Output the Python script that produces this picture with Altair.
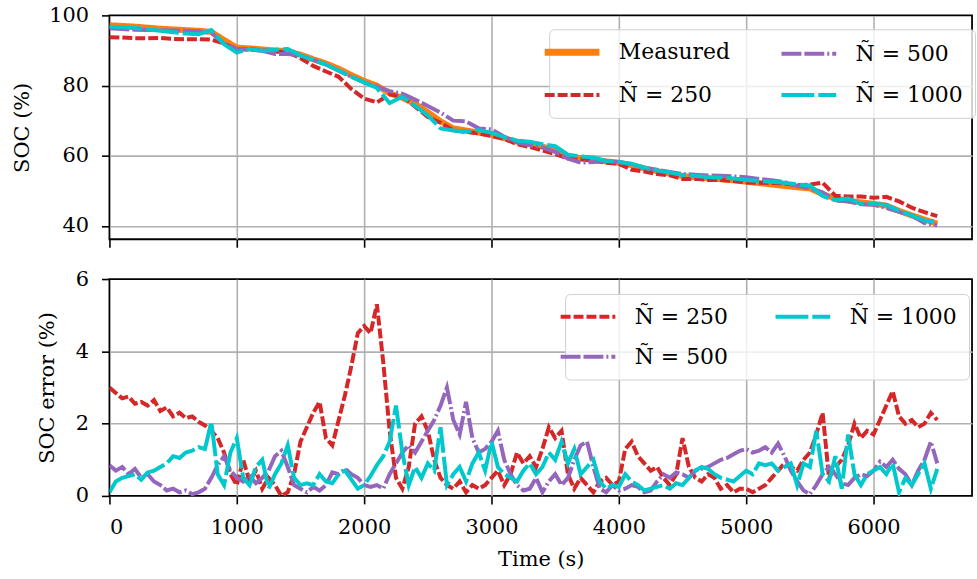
import altair as alt
import pandas as pd

# ---------------- data ----------------
t_soc = list(range(0, 6501, 100))
t_err = list(range(0, 6501, 50))

soc_measured = [97.2, 97.0, 96.8, 96.5, 96.2, 96.0, 95.8, 95.6, 95.3, 93.0,
                90.8, 90.6, 90.3, 90.0, 89.8, 88.8, 87.5, 86.3, 84.8, 83.0,
                81.3, 80.0, 77.8, 76.5, 74.8, 72.4, 69.8, 67.8, 67.2, 66.6,
                66.0, 65.0, 64.0, 63.3, 62.6, 61.5, 59.8, 59.3, 58.8, 58.4,
                58.0, 57.3, 56.4, 55.6, 54.9, 54.2, 53.9, 53.6, 53.3, 53.0,
                52.6, 52.2, 51.8, 51.4, 51.0, 50.7, 49.0, 47.8, 47.2, 46.7,
                46.3, 45.8, 44.3, 43.0, 41.8, 40.6]
soc_n250 = [93.8, 93.7, 93.5, 93.5, 93.6, 93.3, 93.2, 93.2, 93.1, 92.0,
            90.3, 90.4, 90.0, 89.7, 89.5, 87.8, 85.6, 84.0, 82.5, 79.0,
            76.3, 75.2, 77.5, 76.8, 74.0, 71.0, 69.4, 67.2, 66.8, 66.4,
            65.6, 64.8, 63.3, 62.5, 61.5, 60.5, 59.2, 59.0, 58.6, 58.0,
            57.7, 56.0, 55.5, 54.8, 54.4, 53.4, 53.4, 53.1, 53.1, 52.8,
            52.4, 52.3, 52.2, 52.1, 51.6, 51.8, 52.3, 48.6, 48.4, 48.4,
            48.0, 48.3, 47.0, 45.2, 43.9, 42.8]
soc_n500 = [96.3, 96.1, 95.9, 95.8, 95.8, 95.7, 95.6, 95.5, 95.0, 92.0,
            90.4, 90.2, 89.9, 89.0, 89.0, 88.6, 87.3, 86.0, 84.2, 82.5,
            80.9, 79.7, 78.4, 77.7, 76.0, 74.2, 72.3, 70.0, 69.8, 67.8,
            67.5, 65.4, 63.8, 63.0, 62.4, 61.1, 59.2, 58.0, 58.2, 58.5,
            58.2, 57.5, 56.5, 56.0, 55.4, 54.8, 54.6, 54.4, 54.3, 54.1,
            53.9, 53.4, 53.0, 52.5, 51.4, 50.7, 49.6, 47.2, 47.0, 46.2,
            46.0, 45.1, 44.0, 42.9, 40.8, 40.2]
soc_n1000 = [96.8, 96.6, 96.4, 96.0, 95.6, 95.2, 94.8, 94.6, 95.8, 91.8,
             89.4, 90.4, 89.9, 90.2, 90.4, 88.6, 87.3, 86.0, 84.3, 82.5,
             80.9, 79.3, 75.0, 76.8, 74.2, 71.5, 67.8, 67.2, 66.9, 67.3,
             66.5, 65.3, 64.3, 64.0, 63.3, 62.7, 60.3, 59.8, 59.5, 58.5,
             58.2, 57.7, 56.6, 55.8, 55.2, 54.5, 54.2, 53.9, 53.8, 53.5,
             53.1, 52.8, 52.6, 52.3, 51.8, 51.5, 48.5, 47.3, 47.8, 46.3,
             46.3, 46.0, 44.3, 43.0, 41.5, 41.3]

err_n250 = [3.0, 2.85, 2.7, 2.75, 2.55, 2.6, 2.5, 2.65, 2.35, 2.45,
            2.2, 2.3, 2.15, 2.2, 2.05, 1.95, 1.8, 1.6, 1.2, 0.6,
            0.3, 1.0, 0.4, 0.7, 0.2, 0.5, 0.3, 0.0, 0.1, 0.6,
            1.5, 1.9, 2.3, 2.6, 1.6, 1.4, 2.1, 2.8, 3.6, 4.5,
            4.7, 4.5, 5.3, 3.7, 1.8, 0.5, 0.2, 0.8, 2.0, 2.2,
            1.8, 1.0, 0.5, 0.3, 0.2, 0.4, 0.1, 0.3, 0.2, 0.3,
            0.5, 0.7, 0.3, 0.6, 1.2, 0.9, 1.1, 0.8, 1.3, 1.9,
            1.6, 1.8, 0.6, 0.2, 0.5, 0.3, 0.1, 0.4, 0.5, 0.3,
            0.4, 1.3, 1.5, 1.1, 0.9, 0.7, 0.8, 0.5, 0.3, 0.6,
            1.6, 0.8, 0.5, 0.4, 0.6, 0.5, 0.2, 0.3, 0.1, 0.2,
            0.2, 0.1, 0.2, 0.3, 0.5, 0.7, 0.9, 0.8, 0.7, 1.0,
            1.2, 1.7, 2.3, 0.5, 0.8, 1.0, 1.4, 2.0, 1.6, 1.8,
            1.7, 2.1, 2.5, 2.9, 2.2, 2.0, 2.1, 1.9, 2.0, 2.3,
            2.1]
err_n500 = [0.85, 0.7, 0.8, 0.6, 0.75, 0.5, 0.6, 0.4, 0.3, 0.15,
            0.2, 0.1, 0.15, 0.05, 0.1, 0.2, 0.5, 0.85, 1.1, 0.7,
            0.5, 0.4, 0.55, 0.35, 0.5, 0.7, 1.1, 1.25, 0.8, 0.3,
            0.2, 0.1, 0.25, 0.15, 0.3, 0.65, 0.6, 0.75, 0.6, 0.5,
            0.3, 0.25, 0.3, 0.2, 0.6, 0.9, 1.2, 1.4, 1.2, 1.5,
            1.8, 2.1, 2.5, 3.0, 2.1, 1.7, 2.6, 1.6, 1.2, 1.3,
            1.5, 1.8, 1.0, 0.6, 0.3, 0.15, 0.2, 0.5, 0.1, 0.4,
            0.6, 0.3, 0.5, 1.0, 1.4, 1.5, 0.8, 0.2, 0.1, 0.3,
            0.15, 0.2, 0.3, 0.25, 0.1, 0.15, 0.4, 0.6, 0.5, 0.65,
            0.6, 0.5, 0.7, 0.75, 0.8, 0.9, 1.0, 1.05, 1.15, 1.25,
            1.3, 1.2, 1.25, 1.35, 1.2, 1.45, 1.1, 0.7, 0.4, 0.15,
            0.05, 0.3, 0.6, 0.8, 0.6, 0.35, 0.3, 0.5, 0.6, 0.55,
            0.7, 0.95, 0.8, 1.0, 0.75, 0.6, 0.3, 0.7, 1.0, 1.5,
            0.9]
err_n1000 = [0.1, 0.4, 0.5, 0.55, 0.6, 0.45, 0.65, 0.7, 0.8, 0.9,
             1.1, 1.05, 1.2, 1.25, 1.35, 1.3, 2.05, 0.6, 0.3, 1.2,
             1.6, 0.5, 0.3, 0.8, 1.0, 0.2, 0.6, 0.9, 1.4, 0.5,
             0.3, 0.35, 0.3, 0.6, 0.4, 0.35, 0.6, 0.7, 0.45, 0.2,
             0.3, 0.55, 0.85, 1.1, 1.5, 2.5, 1.2, 0.3, 0.8, 0.5,
             0.9, 0.7, 1.9, 0.3, 0.6, 0.8, 0.4, 0.9, 1.2, 0.7,
             1.5, 0.8, 0.6, 0.5, 0.4, 0.7, 0.9, 0.6, 0.8, 1.2,
             1.0, 1.5, 0.9, 1.3, 0.6, 0.8, 1.0, 0.4, 0.2, 0.3,
             0.25, 0.6, 0.4, 0.3, 0.15, 0.2, 0.25, 0.3, 0.2, 0.35,
             0.3, 0.5, 0.7, 0.8, 0.75, 0.6, 0.5, 0.45, 0.4, 0.55,
             0.7, 0.6, 0.9, 0.85, 0.9, 0.7, 0.8, 0.9, 0.3, 0.9,
             0.8, 1.8, 0.6, 0.4, 1.1, 0.2, 1.7, 0.6, 0.3, 0.6,
             0.7, 0.8, 0.6, 0.9, 0.1, 0.5, 0.3, 0.6, 0.9, 0.2,
             0.75]

L_M = "Measured"
L250 = "Ñ = 250"
L500 = "Ñ = 500"
L1000 = "Ñ = 1000"

x_ticks = [0, 1000, 2000, 3000, 4000, 5000, 6000]
soc_ticks = [40, 60, 80, 100]
err_ticks = [0, 2, 4, 6]

# ---------------- tables ----------------
rows = []
for name, vals in [(L_M, soc_measured), (L250, soc_n250), (L500, soc_n500), (L1000, soc_n1000)]:
    for t, v in zip(t_soc, vals):
        rows.append({"t": t, "v": v, "series": name, "lw": 6.0 if name == L_M else 4.0})
top_df = pd.DataFrame(rows)

rows = []
for name, vals in [(L250, err_n250), (L500, err_n500), (L1000, err_n1000)]:
    for t, v in zip(t_err, vals):
        rows.append({"t": t, "v": v, "series": name, "lw": 4.0})
bot_df = pd.DataFrame(rows)

FONT = "DejaVu Serif"
XMAX = 6773
COL = {L_M: "#ff7f0e", L250: "#d62728", L500: "#9467bd", L1000: "#00c8cc"}
DASH = {L_M: [1, 0], L250: [10, 3], L500: [20, 3, 20, 3, 2, 3], L1000: [33, 4]}


def legend(x, y, colpad):
    return alt.Legend(
        title=None, orient="none", legendX=x, legendY=y, columns=2,
        symbolType="stroke", symbolSize=3025,
        symbolStrokeWidth=alt.ExprRef(expr="datum.value == 'Measured' ? 7 : 4"),
        labelFont=FONT, labelFontSize=22, labelColor="black", labelOffset=36,
        rowPadding=18, columnPadding=colpad, padding=12,
        fillColor="rgba(255,255,255,0.8)", strokeColor="#d0d0d0", cornerRadius=5,
    )


def grid_hide(vals):
    test = " || ".join(f"datum.value == {v}" for v in vals)
    return {"condition": {"test": test, "value": 0}, "value": 1}


def panel(df, order, ydom, yticks, ytitle, ytitle_x, height, show_x, lx, ly, colpad):
    x_axis = alt.Axis(values=x_ticks, labels=show_x, format="d", title="Time (s)" if show_x else None,
                      gridOpacity=grid_hide([0]))
    y_axis = alt.Axis(values=yticks, title=ytitle, titleX=ytitle_x,
                      gridOpacity=grid_hide([ydom[0], ydom[1]]))
    leg = legend(lx, ly, colpad)
    return alt.Chart(df).mark_line(strokeCap="butt", clip=True).encode(
        x=alt.X("t:Q", scale=alt.Scale(domain=[0, XMAX], nice=False, zero=False), axis=x_axis),
        y=alt.Y("v:Q", scale=alt.Scale(domain=ydom, nice=False, zero=False), axis=y_axis),
        color=alt.Color("series:N", scale=alt.Scale(domain=order, range=[COL[o] for o in order]), legend=leg),
        strokeDash=alt.StrokeDash("series:N", scale=alt.Scale(domain=order, range=[DASH[o] for o in order]), legend=leg),
        strokeWidth=alt.StrokeWidth("lw:Q", scale=None, legend=None),
        detail="series:N",
    ).properties(width=867, height=height)


# legend entries are laid out column by column
top = panel(top_df, [L_M, L250, L500, L1000], [36.2, 100], soc_ticks, "SOC (%)", -77, 225, False, 442, 14, 43)
bot = panel(bot_df, [L250, L500, L1000], [0, 6], err_ticks, "SOC error (%)", -52, 218, True, 458, 15, 39)

chart = alt.vconcat(top, bot, spacing=18).resolve_scale(
    color="independent", strokeDash="independent"
).resolve_legend(color="independent", strokeDash="independent").properties(
    padding={"left": 11, "top": 2, "right": 0, "bottom": 0}
).configure_view(stroke="black", strokeWidth=1.8).configure_axis(
    domain=False, grid=True, gridColor="#b0b0b0", gridWidth=1.6,
    tickColor="black", tickWidth=1.6, tickSize=8,
    labelFont=FONT, labelFontSize=21, labelColor="black", labelPadding=13,
    titleFont=FONT, titleFontSize=21, titleFontWeight="normal", titleColor="black", titlePadding=11,
)

chart.save("out.html", embed_options={"renderer": "svg", "actions": False})
